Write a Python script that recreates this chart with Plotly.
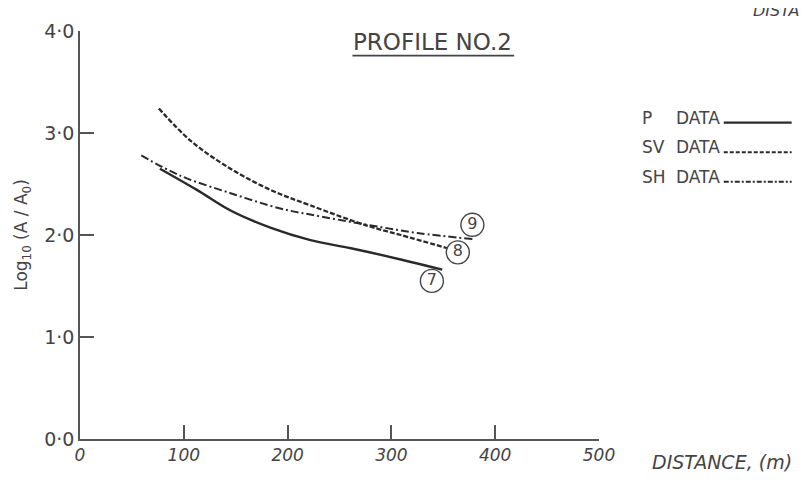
import plotly.graph_objects as go

# ---- data ----
p_dist = [77, 113, 145, 184, 222, 261, 309, 349]
p_val = [2.65, 2.44, 2.24, 2.07, 1.95, 1.87, 1.76, 1.66]

sv_dist = [76, 107, 145, 184, 222, 277, 309, 354]
sv_val = [3.24, 2.92, 2.65, 2.44, 2.29, 2.09, 2.00, 1.87]

sh_dist = [59, 97, 145, 193, 222, 277, 325, 378]
sh_val = [2.78, 2.58, 2.41, 2.26, 2.20, 2.10, 2.02, 1.96]

label_text = ["7", "8", "9"]
label_dist = [339, 364, 378]
label_val = [1.55, 1.83, 2.10]

x_ticks = [0, 100, 200, 300, 400, 500]
x_ticktext = ["0", "100", "200", "300", "400", "500"]
y_ticks = [0, 1, 2, 3, 4]
y_ticktext = ["0·0", "1·0", "2·0", "3·0", "4·0"]

INK = "#2a2a2a"
AX = "#555555"
TXT = "#444444"
FONT = "DejaVu Sans"

# the page body has an 8px margin; the figure is sized/offset to compensate
OFF = 8
W, H = 807 - OFF, 486 - OFF
PL, PR, PT, PB = 79, 599, 25, 439  # plot area in page pixels
L, T = PL - OFF, PT - OFF
R = W - L - (PR - PL)
B = H - T - (PB - PT)


def px(x):
    return (x - PL) / (PR - PL)


def py(y):
    return (PB - y) / (PB - PT)


fig = go.Figure()
fig.add_trace(go.Scatter(x=p_dist, y=p_val, mode="lines", line=dict(color=INK, width=2.4, shape="spline"),
                         name="P DATA", showlegend=False))
fig.add_trace(go.Scatter(x=sv_dist, y=sv_val, mode="lines",
                         line=dict(color=INK, width=2.3, dash="5px,2px", shape="spline"),
                         name="SV DATA", showlegend=False))
fig.add_trace(go.Scatter(x=sh_dist, y=sh_val, mode="lines",
                         line=dict(color=INK, width=2.0, dash="8px,3px,2px,3px", shape="spline"),
                         name="SH DATA", showlegend=False))
fig.add_trace(go.Scatter(x=label_dist, y=label_val, mode="markers+text", text=label_text,
                         textposition="middle center",
                         textfont=dict(family=FONT, size=16, color=TXT),
                         marker=dict(symbol="circle-open", size=23, color=TXT, line=dict(width=1.4, color=TXT)),
                         showlegend=False, hoverinfo="skip"))

fig.update_layout(
    width=W, height=H,
    margin=dict(l=L, r=R, t=T, b=B),
    paper_bgcolor="white", plot_bgcolor="white",
    font=dict(family=FONT, color=TXT),
    showlegend=False,
)

fig.update_xaxes(
    range=[0, 500], tickvals=x_ticks, ticktext=x_ticktext,
    showgrid=False, zeroline=False, showline=True, linecolor=AX, linewidth=1.5,
    ticks="inside", ticklen=14, tickwidth=1.5, tickcolor=AX,
    tickfont=dict(family=FONT, size=17, color=TXT, style="italic"),
)
fig.update_yaxes(
    range=[0, 4], tickvals=y_ticks, ticktext=y_ticktext,
    showgrid=False, zeroline=False, showline=True, linecolor=AX, linewidth=1.5,
    ticks="inside", ticklen=14, tickwidth=1.5, tickcolor=AX,
    tickfont=dict(family=FONT, size=19, color=TXT),
    title=dict(text="Log<sub>10</sub> (A / A<sub>0</sub>)", font=dict(family=FONT, size=17, color=TXT), standoff=12),
)

annotations = [
    dict(text="PROFILE NO.2", x=px(432), y=py(36), xref="paper", yref="paper",
         showarrow=False, font=dict(family=FONT, size=23, color=TXT), xanchor="center", yanchor="middle"),
    dict(text="DISTANCE, (m)", x=px(650), y=py(462), xref="paper", yref="paper",
         showarrow=False, font=dict(family=FONT, size=19, color=TXT, style="italic"),
         xanchor="left", yanchor="middle"),
    dict(text="DISTANCE, (m)", x=px(751), y=py(4), xref="paper", yref="paper",
         showarrow=False, font=dict(family=FONT, size=16, color=TXT, style="italic"),
         xanchor="left", yanchor="middle"),
]
legend_rows = [("P", 113, "solid"), ("SV", 143, "4px,2px"), ("SH", 173, "5px,2px,2px,2px")]
shapes = [
    dict(type="line", xref="paper", yref="paper", x0=px(352), x1=px(514), y0=py(50), y1=py(50),
         line=dict(color=TXT, width=1.6)),
]
for name, yy, dash in legend_rows:
    annotations.append(dict(text=name, x=px(640), y=py(yy), xref="paper", yref="paper", showarrow=False,
                            font=dict(family=FONT, size=17, color=TXT), xanchor="left", yanchor="middle"))
    annotations.append(dict(text="DATA", x=px(722), y=py(yy), xref="paper", yref="paper", showarrow=False,
                            font=dict(family=FONT, size=17, color=TXT), xanchor="right", yanchor="middle"))
    shapes.append(dict(type="line", xref="paper", yref="paper", x0=px(724), x1=px(792),
                       y0=py(yy + 5), y1=py(yy + 5),
                       line=dict(color=INK, width=2.4 if dash == "solid" else 2.0, dash=dash)))

fig.update_layout(annotations=annotations, shapes=shapes)

fig.write_html("out.html")
